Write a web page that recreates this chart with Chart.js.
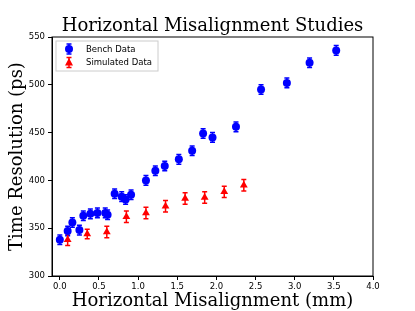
<!DOCTYPE html>
<html>
<head>
<meta charset="utf-8">
<script src="https://cdn.jsdelivr.net/npm/chart.js@4/dist/chart.umd.min.js"></script>
<style>
  body { margin: 0; background: #fff; }
  canvas { display: block; }
</style>
</head>
<body>
<canvas id="chart" width="415" height="311"></canvas>
<script>
// Bench measurements
const benchX = [0.00, 0.10, 0.16, 0.25, 0.30, 0.39, 0.48, 0.58, 0.61, 0.70, 0.79, 0.84, 0.91,
                1.10, 1.22, 1.34, 1.52, 1.69, 1.83, 1.95, 2.25, 2.57, 2.90, 3.19, 3.53];
const benchY = [338, 347, 356, 348, 363, 365, 366, 366, 364, 386, 383, 380, 385,
                400, 410, 415, 422, 431, 449, 445, 456, 495, 502, 523, 536];
const benchErr = [5, 5, 5, 5, 5, 5, 5, 5, 5, 5, 5, 5, 5,
                  5, 5, 5, 5, 5, 5, 5, 5, 5, 5, 5, 5];

// Simulated points
const simX = [0.10, 0.35, 0.60, 0.85, 1.10, 1.35, 1.60, 1.85, 2.10, 2.35];
const simY = [338, 344, 346, 362, 366, 373, 381, 382, 388, 395];
const simErr = [6, 5, 6, 6, 6, 6, 6, 6, 6, 6];

const xTicks = [0.0, 0.5, 1.0, 1.5, 2.0, 2.5, 3.0, 3.5, 4.0];
const yTicks = [300, 350, 400, 450, 500, 550];

const chartTitle = 'Horizontal Misalignment Studies';

const toPoints = (xs, ys) => xs.map((x, i) => ({ x: x, y: ys[i] }));

// error bars, drawn under the markers
const errorBars = {
  id: 'errorBars',
  beforeDatasetsDraw(chart) {
    const ctx = chart.ctx;
    const yScale = chart.scales.y;
    chart.data.datasets.forEach((ds, di) => {
      const meta = chart.getDatasetMeta(di);
      ctx.save();
      ctx.strokeStyle = ds.borderColor;
      ctx.lineWidth = 1.5;
      meta.data.forEach((pt, i) => {
        const v = ds.data[i].y;
        const top = yScale.getPixelForValue(v + ds.errors[i]);
        const bot = yScale.getPixelForValue(v - ds.errors[i]);
        ctx.beginPath();
        ctx.moveTo(pt.x, top); ctx.lineTo(pt.x, bot);
        ctx.moveTo(pt.x - 2.5, top); ctx.lineTo(pt.x + 2.5, top);
        ctx.moveTo(pt.x - 2.5, bot); ctx.lineTo(pt.x + 2.5, bot);
        ctx.stroke();
      });
      ctx.restore();
    });
  }
};

// title centred over the plot, full box frame, legend inside the plot
const frameAndLegend = {
  id: 'frameAndLegend',
  afterDraw(chart) {
    const ctx = chart.ctx;
    const a = chart.chartArea;
    ctx.save();
    ctx.fillStyle = '#000';
    ctx.font = '18px "DejaVu Serif"';
    ctx.textAlign = 'center';
    ctx.textBaseline = 'alphabetic';
    ctx.fillText(chartTitle, (a.left + a.right) / 2, 31);
    ctx.textAlign = 'left';

    ctx.strokeStyle = '#000';
    ctx.lineWidth = 1;
    ctx.strokeRect(a.left, a.top, a.right - a.left, a.bottom - a.top);

    // legend box
    const lx = a.left + 4, ly = a.top + 4, lw = 102, lh = 30;
    ctx.fillStyle = 'rgba(255,255,255,0.8)';
    ctx.strokeStyle = '#ccc';
    ctx.fillRect(lx, ly, lw, lh);
    ctx.strokeRect(lx, ly, lw, lh);
    ctx.font = '8.5px "DejaVu Sans"';
    ctx.textBaseline = 'middle';
    chart.data.datasets.forEach((ds, di) => {
      const cy = ly + 8 + di * 13.5;
      const cx = lx + 13;
      ctx.strokeStyle = ds.borderColor;
      ctx.fillStyle = ds.backgroundColor;
      ctx.lineWidth = 1.5;
      ctx.beginPath();
      ctx.moveTo(cx, cy - 5); ctx.lineTo(cx, cy + 5);
      ctx.moveTo(cx - 2.5, cy - 5); ctx.lineTo(cx + 2.5, cy - 5);
      ctx.moveTo(cx - 2.5, cy + 5); ctx.lineTo(cx + 2.5, cy + 5);
      ctx.stroke();
      ctx.beginPath();
      if (ds.pointStyle === 'triangle') {
        ctx.moveTo(cx, cy - 4.5); ctx.lineTo(cx + 4, cy + 3); ctx.lineTo(cx - 4, cy + 3);
        ctx.closePath();
      } else {
        ctx.arc(cx, cy, 4, 0, Math.PI * 2);
      }
      ctx.fill();
      ctx.fillStyle = '#000';
      ctx.fillText(ds.label, lx + 30, cy + 0.5);
    });
    ctx.restore();
  }
};

new Chart(document.getElementById('chart'), {
  type: 'scatter',
  data: {
    datasets: [
      {
        label: 'Bench Data',
        data: toPoints(benchX, benchY),
        errors: benchErr,
        pointStyle: 'circle',
        pointRadius: 4,
        backgroundColor: '#0000ff',
        borderColor: '#0000ff',
        borderWidth: 0
      },
      {
        label: 'Simulated Data',
        data: toPoints(simX, simY),
        errors: simErr,
        pointStyle: 'triangle',
        pointRadius: 4.5,
        backgroundColor: '#ff0000',
        borderColor: '#ff0000',
        borderWidth: 0
      }
    ]
  },
  options: {
    responsive: false,
    animation: false,
    devicePixelRatio: 1,
    layout: { padding: { left: 0, right: 42, top: 37, bottom: 0 } },
    plugins: {
      legend: { display: false },
      tooltip: { enabled: false },
      title: { display: false }
    },
    scales: {
      x: {
        type: 'linear',
        min: -0.1,
        max: 4.0,
        afterBuildTicks: (scale) => { scale.ticks = xTicks.map(v => ({ value: v })); },
        afterFit: (scale) => { scale.height = 35; },
        grid: { drawOnChartArea: false, drawTicks: true, tickLength: 4, color: '#000' },
        border: { color: '#000' },
        ticks: {
          color: '#000',
          padding: 2,
          maxRotation: 0,
          font: { family: '"DejaVu Sans"', size: 8.5 },
          callback: (v) => Number(v).toFixed(1)
        },
        title: {
          display: true,
          text: 'Horizontal Misalignment (mm)',
          color: '#000',
          font: { family: '"DejaVu Serif"', size: 18 },
          padding: { top: 0, bottom: -1 }
        }
      },
      y: {
        type: 'linear',
        min: 300,
        max: 550,
        afterBuildTicks: (scale) => { scale.ticks = yTicks.map(v => ({ value: v })); },
        afterFit: (scale) => { scale.width = 52; },
        grid: { drawOnChartArea: false, drawTicks: true, tickLength: 4, color: '#000' },
        border: { color: '#000' },
        ticks: {
          color: '#000',
          padding: 3,
          font: { family: '"DejaVu Sans"', size: 8.5 }
        },
        title: {
          display: true,
          text: 'Time Resolution (ps)',
          color: '#000',
          font: { family: '"DejaVu Serif"', size: 18 },
          padding: { top: 7, bottom: 0 }
        }
      }
    }
  },
  plugins: [errorBars, frameAndLegend]
});
</script>
</body>
</html>
